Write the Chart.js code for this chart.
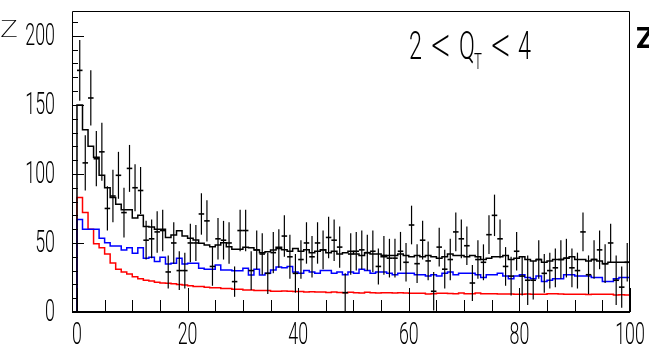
<!DOCTYPE html>
<html>
<head>
<meta charset="utf-8">
<script src="https://cdn.jsdelivr.net/npm/chart.js@4.4.1/dist/chart.umd.min.js"></script>
<style>
  html, body { margin: 0; padding: 0; background: #fff; }
  #wrap { position: relative; width: 649px; height: 356px; }
</style>
</head>
<body>
<div id="wrap"><canvas id="zChart"></canvas></div>
<script>
// one bin per unit, 0..100
const dataValues = [175,108,155,111,116,75,84,99,72,104,
  90,88,52,53,58,59,29,50,30,30,
  50,50,71,66,33,53,52,50,22,59,
  59,30,45,42,28,43,46,55,40,28,
  38,50,40,50,45,54,52,47,14,42,
  44,45,43,44,33,41,39,39,44,36,
  63,35,52,37,15,47,31,38,58,53,
  48,21,38,36,56,70,53,33,26,44,
  26,23,23,38,28,30,32,38,39,32,
  30,58,27,38,45,35,50,23,18,36];
const dataErrors = [22,20,20,20,21,16,19,17,18,17,
  17,17,14,14,15,15,12,15,14,13,
  14,13,15,15,14,15,14,15,11,15,
  15,14,14,15,15,15,14,15,16,14,
  14,15,15,15,14,15,15,15,14,15,
  14,14,13,15,13,14,14,14,14,14,
  14,14,14,14,14,14,14,15,14,14,
  14,13,14,13,14,15,14,14,14,14,
  14,18,14,14,14,13,14,14,14,14,
  13,14,14,14,14,14,14,18,15,14];
const mcBlack = [150,132,120,112,99,90,83,78,74,74,
  68,70,62,61.5,60,60,54,55.8,58.9,55,
  53.4,52.2,49.8,48.6,47.3,48.6,50.2,47.3,45.4,45.4,
  46.9,46.6,44.9,43,43.7,44.9,46.9,45,44,46,
  44,45,43,44,45,43,44,42,43,44,
  42,41,43,42,42,40,41,41,42,41,
  40,41,40,41,40,39,40,42,41,41,
  40,41,40,38,39,40,40,41,38,39,
  40,38,37,38,36,37,38,38,39,40,
  38,38,37,38,37,35,36,36,36,36];
const mcBlue = [67,60,60,60,53.4,50.2,47.8,47.8,44.9,46.6,
  42.5,46.6,38.9,39.6,36.5,39.6,34.8,35.3,38.9,34.8,
  35.3,35.3,31.6,30.9,30.9,34,30.4,30.4,29.9,29.9,
  31.6,26.8,30.9,26.8,28,30.4,32.6,32,33,29,
  28,30,29,28,30,30,28,29,27,29,
  28,31,30,28,29,29,28,27,28,28,
  28,27,27,26,27,26,28,29,27,28,
  28,28,27,25,27,27,28,26,24,26,
  27,25,24,26,22,23,24,24,27,27,
  26,26,26,25,25,22,22,24,25,25];
const mcRed = [83,72,60,49.5,46.5,42,35.5,31,29,27.5,
  25.5,24,23,22.5,21.5,21,20.8,20.5,20,19.5,
  19,18.5,18.5,18,17.5,17.5,17,17,16.5,16.5,
  16,16,15.5,15.5,15.5,15,15,15.2,15,14.8,
  14.8,14.5,14.7,14.4,14.4,14.2,14.5,14.2,14,14.3,
  14,13.8,14.3,14,13.8,13.9,14,13.7,13.9,13.7,
  13.6,13.5,13.5,13,13.3,13.5,13.6,13.4,13.2,13.8,
  13.3,13.3,13.8,13.3,13.2,13.3,13,13.1,13,12.8,
  12.9,13,12.8,12.9,12.8,13.2,13.3,13,12.9,12.8,
  12.8,12.8,12.7,12.8,12.8,12.8,12.9,12.4,12.5,12.4];
const xTickLabels = [0, 20, 40, 60, 80, 100];
const yTickLabels = [0, 50, 100, 150, 200];

// histogram outline: closed to zero at both ends, one step per bin
function histPoints(values) {
  const pts = [{x: 0, y: 0}];
  values.forEach((v, i) => pts.push({x: i, y: v}));
  pts.push({x: values.length, y: values[values.length - 1]});
  pts.push({x: values.length, y: 0});
  return pts;
}

function squeezed(ctx, str, x, y, size, sx, align, baseline, weight) {
  ctx.save();
  ctx.translate(x, y);
  ctx.scale(sx, 1);
  ctx.font = (weight || '300') + ' ' + size + 'px Roboto, "Liberation Sans Narrow", sans-serif';
  ctx.textAlign = align;
  ctx.textBaseline = baseline;
  ctx.fillStyle = '#000';
  ctx.fillText(str, 0, 0);
  ctx.restore();
}

const errorBars = {
  id: 'errorBars',
  afterDatasetsDraw(chart) {
    const ctx = chart.ctx;
    const xs = chart.scales.x, ys = chart.scales.y;
    ctx.save();
    ctx.strokeStyle = '#000';
    dataValues.forEach((v, i) => {
      const xc = xs.getPixelForValue(i + 0.5);
      const x0 = xs.getPixelForValue(i), x1 = xs.getPixelForValue(i + 1);
      const yv = ys.getPixelForValue(v);
      const yLo = ys.getPixelForValue(Math.max(0, v - dataErrors[i]));
      const yHi = ys.getPixelForValue(v + dataErrors[i]);
      ctx.lineWidth = 1.2;
      ctx.beginPath(); ctx.moveTo(xc, yLo); ctx.lineTo(xc, yHi); ctx.stroke();
      ctx.lineWidth = 1.6;
      ctx.beginPath(); ctx.moveTo(x0, yv); ctx.lineTo(x1, yv); ctx.stroke();
    });
    ctx.restore();
  }
};

const rootFrame = {
  id: 'rootFrame',
  afterDraw(chart) {
    const ctx = chart.ctx;
    const a = chart.chartArea;
    const xs = chart.scales.x, ys = chart.scales.y;
    ctx.save();
    ctx.strokeStyle = '#000';
    ctx.lineWidth = 1;
    ctx.beginPath();
    ctx.moveTo(a.left + 0.5, a.bottom); ctx.lineTo(a.left + 0.5, a.top + 0.5);
    ctx.lineTo(a.right - 0.5, a.top + 0.5); ctx.lineTo(a.right - 0.5, a.bottom);
    ctx.stroke();
    ctx.lineWidth = 2;
    ctx.beginPath(); ctx.moveTo(a.left, a.bottom); ctx.lineTo(a.right, a.bottom); ctx.stroke();

    // ticks drawn inside the frame
    ctx.lineWidth = 1;
    for (let v = 0; v <= 100; v += 5) {
      const px = Math.round(xs.getPixelForValue(v)) + 0.5;
      const len = v % 20 === 0 ? 24 : 12;
      ctx.beginPath(); ctx.moveTo(px, a.bottom); ctx.lineTo(px, a.bottom - len); ctx.stroke();
    }
    for (let v = 0; v <= 210; v += 10) {
      const py = Math.round(ys.getPixelForValue(v)) + 0.5;
      const len = v % 50 === 0 ? 12 : 6;
      ctx.beginPath(); ctx.moveTo(a.left, py); ctx.lineTo(a.left + len, py); ctx.stroke();
    }
    ctx.restore();

    xTickLabels.forEach(v => {
      squeezed(ctx, String(v), xs.getPixelForValue(v), a.bottom + 24, 31, 0.575, 'center', 'middle');
    });
    yTickLabels.forEach(v => {
      squeezed(ctx, String(v), a.left - 17, ys.getPixelForValue(v) + 1, 31, 0.575, 'right', 'middle');
    });

    // axis title fragment and pad label
    squeezed(ctx, 'Z', 18, 31, 24, 1.25, 'right', 'middle', '200');
    squeezed(ctx, 'Z', 636, 40, 30, 1, 'left', 'middle', 'bold');

    // 2 < Q_T < 4
    const big = 39, sx = 0.6;
    squeezed(ctx, '2', 409, 49, big, sx, 'left', 'middle');
    squeezed(ctx, '<', 441, 49, 54, 0.72, 'center', 'middle', '200');
    squeezed(ctx, 'Q', 459, 49, big, sx, 'left', 'middle');
    squeezed(ctx, 'T', 474, 63, 22, sx, 'left', 'middle');
    squeezed(ctx, '<', 501, 49, 54, 0.72, 'center', 'middle', '200');
    squeezed(ctx, '4', 518, 49, big, sx, 'left', 'middle');
  }
};

new Chart(document.getElementById('zChart'), {
  type: 'line',
  data: {
    datasets: [
      {
        label: 'data',
        data: dataValues.map((v, i) => ({x: i + 0.5, y: v})),
        showLine: false,
        pointRadius: 0,
        borderColor: '#000'
      },
      {
        label: 'black',
        data: histPoints(mcBlack),
        stepped: 'before',
        borderColor: '#000',
        borderWidth: 1.5,
        pointRadius: 0,
        fill: false
      },
      {
        label: 'blue',
        data: histPoints(mcBlue),
        stepped: 'before',
        borderColor: '#0000ff',
        borderWidth: 1.5,
        pointRadius: 0,
        fill: false
      },
      {
        label: 'red',
        data: histPoints(mcRed),
        stepped: 'before',
        borderColor: '#ff0000',
        borderWidth: 1.5,
        pointRadius: 0,
        fill: false
      }
    ]
  },
  options: {
    responsive: true,
    maintainAspectRatio: false,
    animation: false,
    layout: { padding: { left: 72, top: 11, right: 19, bottom: 44 } },
    plugins: {
      legend: { display: false },
      tooltip: { enabled: false }
    },
    scales: {
      x: { type: 'linear', min: -0.9, max: 100, display: false },
      y: { type: 'linear', min: 0, max: 218, display: false }
    }
  },
  plugins: [errorBars, rootFrame]
});
</script>
</body>
</html>
